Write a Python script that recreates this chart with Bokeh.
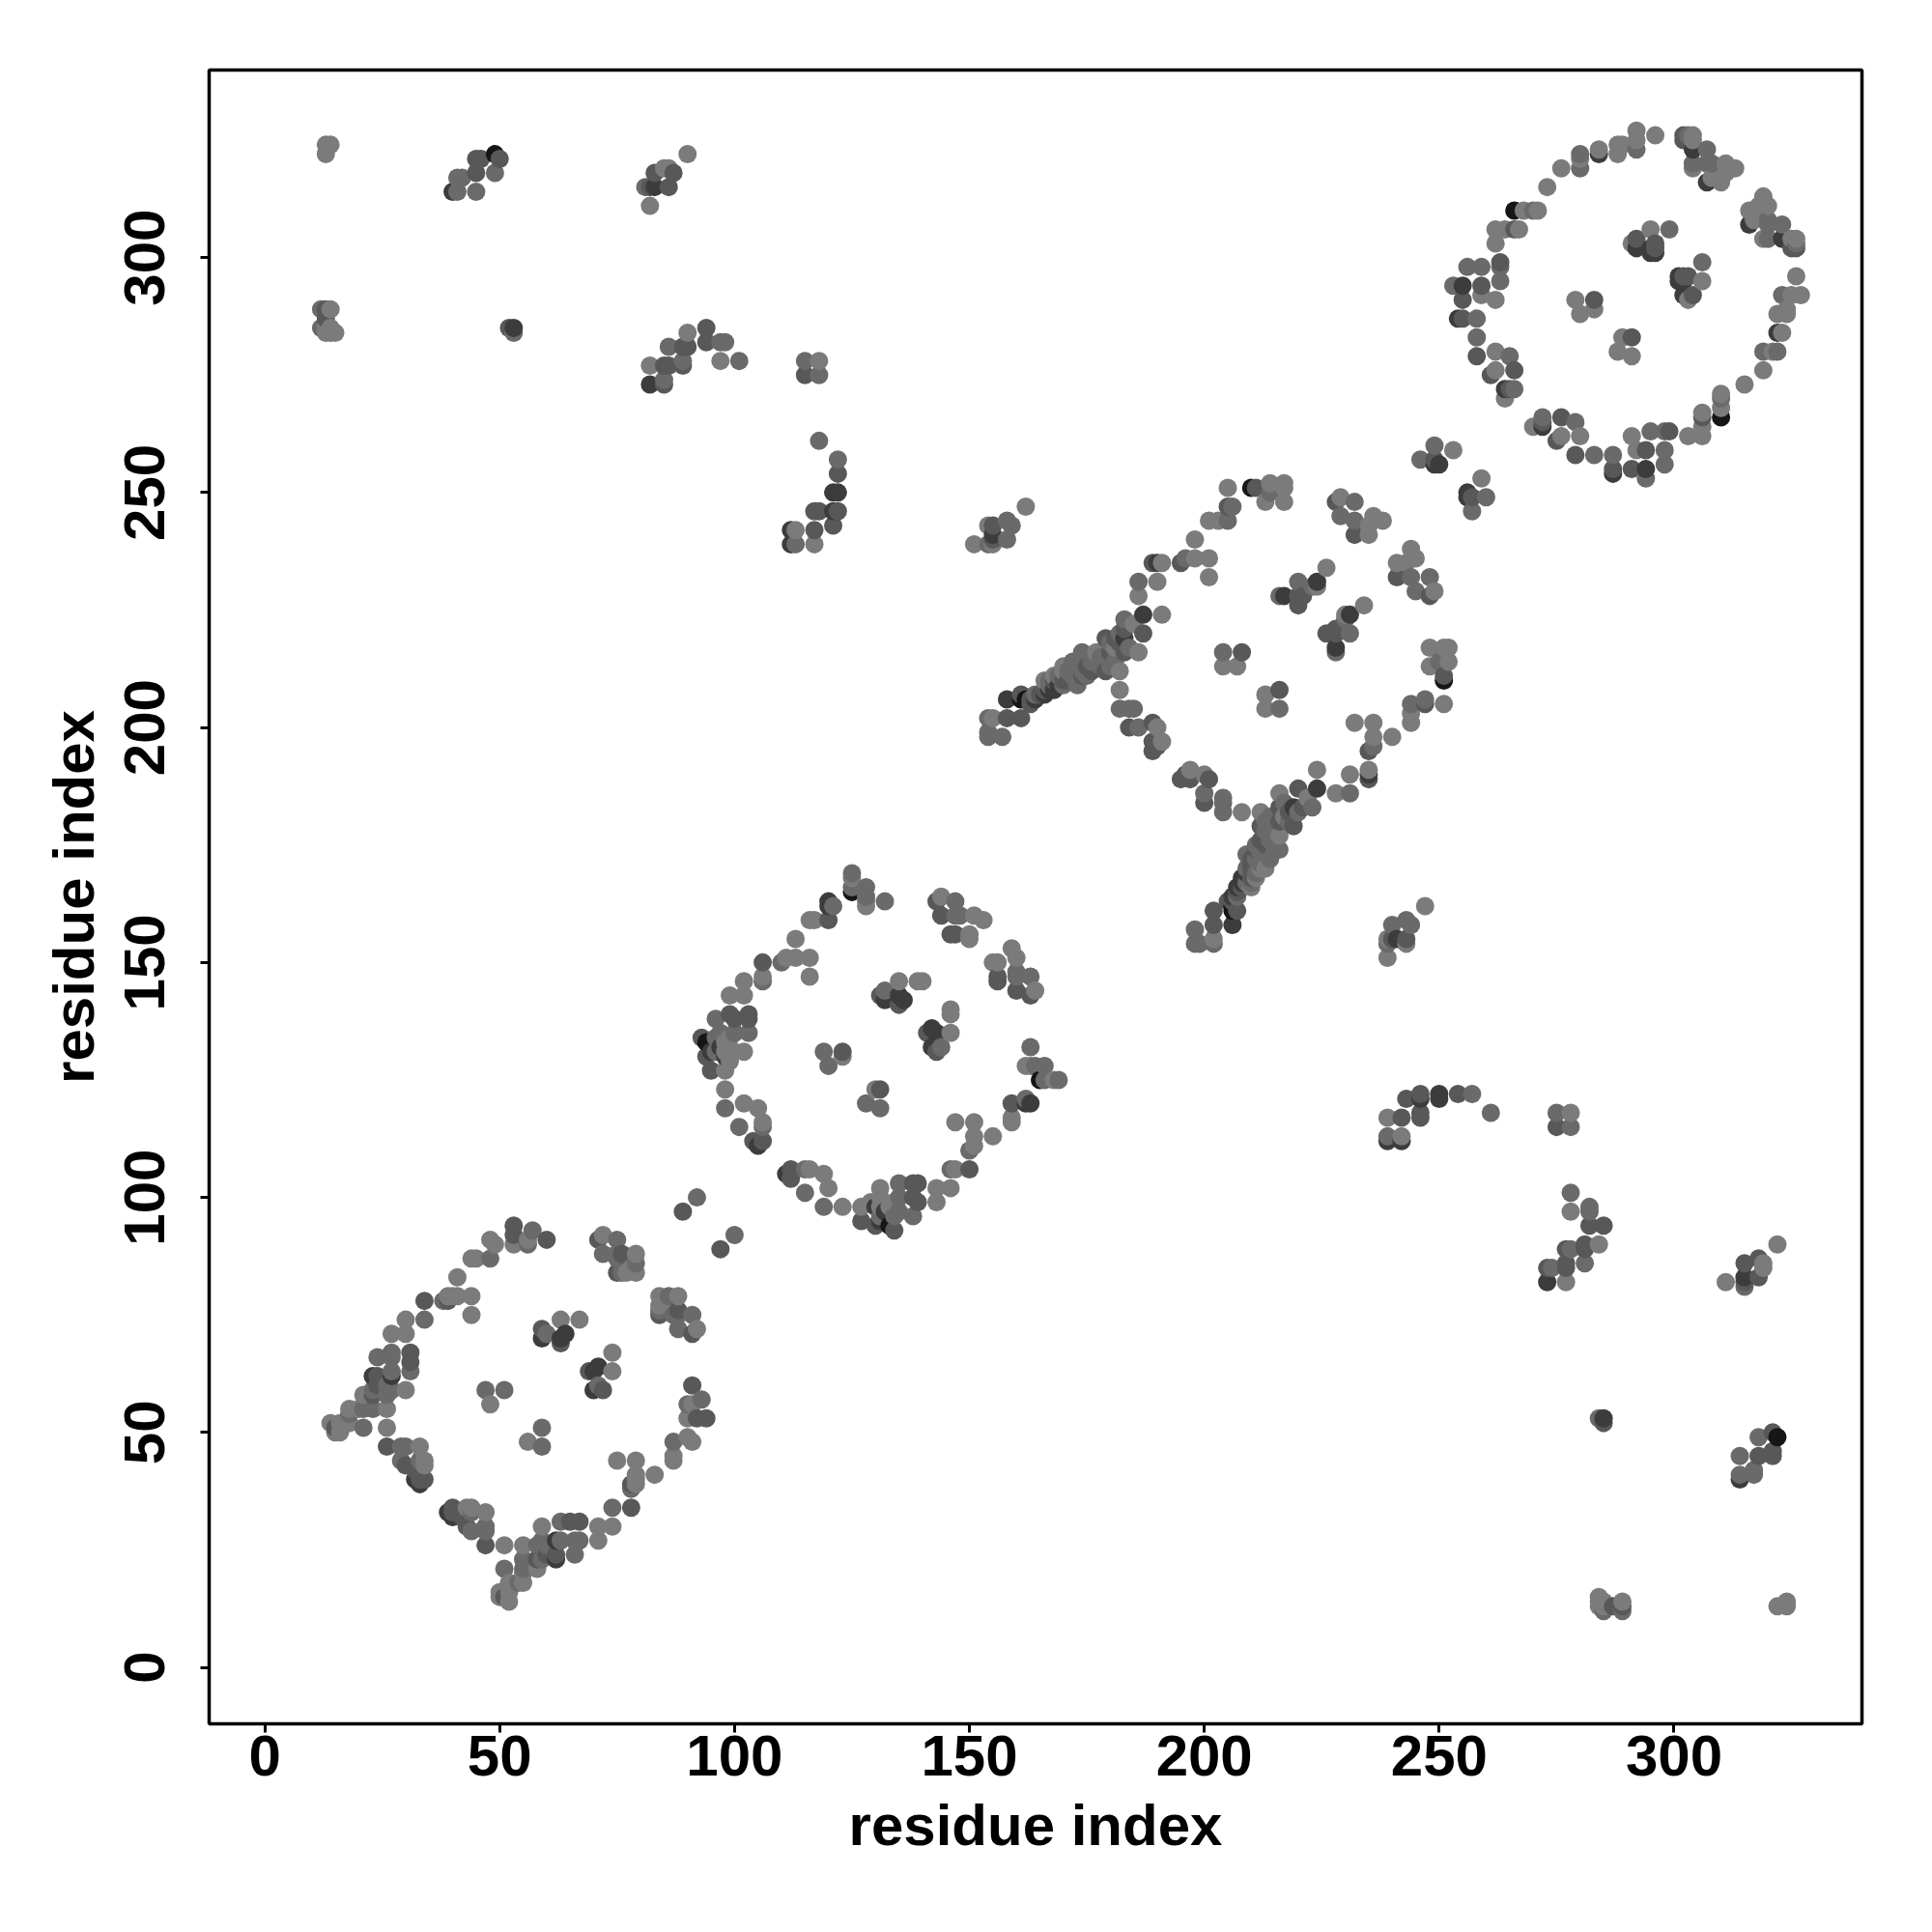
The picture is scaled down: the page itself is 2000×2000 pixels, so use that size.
from bokeh.plotting import figure
from bokeh.models import ColumnDataSource, FixedTicker, Range1d
from bokeh.embed import file_html
from bokeh.resources import INLINE

# contacts (i, j, strength class 1 = weak ... 5 = strong); the map is symmetric, only i < j is listed
ring1 = [(14,52,1),(15,50,1),(15,51,3),(16,52,1),(16,50,1),(18,52,1),(18,54,2),(18,55,1),(20,55,1),(21,51,2),(21,55,2),
 (21,58,1),(23,55,2),(23,58,3),(23,59,2),(23,62,4),(24,60,3),(24,62,3),(24,66,2),(26,51,1),(26,55,1),(26,58,2),(26,60,2),
 (27,59,2),(27,62,4),(27,63,2),(27,66,2),(27,67,2),(27,71,1),(30,59,1),(30,71,1),(30,74,1),(31,63,2),(31,65,3),(31,67,3),
 (34,74,2),(34,78,3),(38,78,2),(39,78,3),(39,79,1),(40,79,1),(41,79,1),(41,83,1),(44,75,1),(44,79,1),(44,87,1),(45,87,1),
 (48,87,2),(48,91,1),(49,90,1),(53,90,1),(53,92,3),(53,94,3),(56,90,2),(56,91,1),(57,93,2),(60,91,3),
 (47,59,2),(48,56,1),(51,59,2),(59,72,3),(60,71,2),(59,70,4),(63,69,3),(63,70,4),(64,71,4),(63,74,1),(67,74,1),
 (71,91,3),(72,92,1),(72,88,2),(75,91,2),(75,87,2),(75,88,2),(76,88,3),(76,84,2),(75,84,3),(78,85,1),(77,84,1),
 (79,88,1),(79,86,2),(79,84,1),
 (26,47,3),(29,47,2),(30,47,2),(33,47,1),(29,44,2),(30,43,3),(32,42,3),(33,44,2),(34,44,1),(34,43,1),(32,40,4),(33,39,4),
 (33,40,3),(34,40,3)]

ring2 = [(93,134,3),(94,133,5),(94,130,3),(95,131,4),(95,127,3),(96,134,2),(96,138,2),(98,119,2),(98,123,1),(98,127,1),
 (98,130,4),(98,131,1),(98,133,1),(99,134,1),(99,139,3),(99,143,1),(100,138,3),(102,120,1),(102,131,1),(102,143,1),
 (102,146,1),(103,135,2),(103,138,3),(103,139,3),(101,115,2),(105,119,1),(104,112,3),(105,111,4),(106,112,3),(106,115,2),
 (106,116,1),(106,146,2),(106,147,1),(106,150,3),(110,150,2),(111,151,1),(113,151,1),(113,155,1),(116,147,1),(116,151,1),
 (116,159,1),(117,159,1),(120,159,3),(120,162,4),(120,163,4),(121,162,2),(125,165,5),(125,166,2),(125,169,2),(125,168,1),
 (128,162,1),(128,163,1),(128,164,2),(128,166,2),(132,163,2),
 (119,131,2),(120,128,2),(123,131,2),(123,130,1),(128,120,2),(130,123,1),(131,119,2),(131,123,3),
 (131,143,3),(132,142,4),(132,144,2),(135,141,3),(135,143,4),(136,142,4),(135,146,1),(139,146,1),(140,146,1),
 (143,163,3),(144,160,3),(144,164,1),(146,156,3),(147,156,3),(147,160,2),(147,163,2),(148,160,2),(150,155,1),(150,156,1),
 (151,160,1),(153,159,1),(96,131,2),(97,135,2),(97,132,4),(100,135,2),(100,131,1),(99,129,1)]

ring3 = [(154,198,2),(154,199,2),(154,202,2),(155,202,1),(157,198,2),(158,202,3),(158,206,4),(161,202,3),(161,206,5),
 (161,207,3),(162,206,5),(163,206,3),(163,205,3),(164,206,4),(164,207,2),(165,207,3),(166,207,4),(166,208,3),(166,210,1),(167,208,4),
 (167,209,2),(167,210,2),(168,208,4),(168,210,3),(168,211,1),(169,209,4),(169,211,2),(170,209,2),(170,210,3),(170,212,1),(170,213,1),
 (171,210,3),(171,212,2),(172,210,3),(172,211,2),(172,214,2),(173,209,2),(173,212,2),(174,211,3),(174,212,2),(174,215,2),(174,216,2),
 (175,211,2),(175,213,3),(176,212,3),(176,214,2),(177,214,2),(177,216,1),(178,213,2),(178,215,2),(179,212,3),(179,215,2),
 (179,219,3),(180,213,2),(180,216,3),(180,218,2),(181,214,2),(181,217,1),(181,219,3),(182,212,1),(182,208,1),(182,218,3),(182,220,2),
 (183,216,3),(183,219,4),(183,221,3),(183,223,2),(184,217,2),(186,216,1),(186,228,1),(186,231,2),(187,220,3),(187,224,4),(185,222,1),
 (190,231,1),(189,235,3),(190,235,4),(191,224,1),(191,235,1),(195,235,3),(196,236,2),(198,236,1),(198,240,1),(201,232,1),(201,236,1),
 (201,244,1),(203,244,1),(205,244,2),(205,251,1),(205,247,3),(206,247,2),(210,251,5),(211,251,3),(213,248,1),(214,250,2),(214,252,1),
 (217,248,1),(217,251,1),(217,252,1),
 (204,213,1),(204,216,2),(207,213,1),(208,216,3),(213,204,1),(213,207,1),(216,204,2),(216,208,3),
 (217,228,4),(216,228,2),(220,226,4),(220,231,2),(221,228,3),(224,231,4),(223,230,2),(226,234,1),(231,224,4),(230,224,1),(234,226,1),
 (226,220,3),(228,220,3),(228,217,4),(228,216,2),(231,220,2),
 (228,248,3),(229,245,2),(229,249,1),(232,241,3),(232,244,2),(232,248,2),(235,241,1),(236,245,1),(238,244,1),(235,243,1),
 (182,204,2),(184,204,2),(185,204,2),(184,200,3),(186,200,2),(189,201,3),(190,200,1),(189,195,3),(189,197,3),(191,197,1),(190,196,3)]

ring4 = [(253,294,2),(254,287,4),(255,287,3),(255,291,3),(255,294,4),(256,298,2),(258,279,3),(258,283,2),(258,287,2),
 (259,292,1),(259,294,3),(259,298,2),(261,275,3),(262,276,1),(262,280,1),(262,291,1),(263,295,2),(263,298,2),(263,299,3),
 (264,270,1),(264,272,4),(265,272,3),(265,279,2),(266,276,3),(266,272,2),(262,303,1),(262,306,1),(264,306,1),(266,306,3),
 (266,310,5),(267,306,1),(268,310,1),(270,310,2),(271,310,1),(273,315,1),(276,319,1),(280,319,2),(280,321,1),(280,322,2),
 (284,322,4),(284,323,1),(288,322,1),(288,324,1),(289,324,1),(292,323,2),(292,325,1),(292,327,1),(296,326,1),
 (279,291,1),(280,288,1),(283,289,1),(283,291,3),(288,280,1),(289,283,1),(291,279,1),(291,283,3),
 (291,303,1),(292,302,4),(292,304,3),(295,306,1),(299,306,1),(295,301,4),(296,301,4),(296,303,3),
 (302,295,4),(302,296,3),(302,292,4),(304,292,3),(306,295,1),(306,299,2),
 (302,325,3),(302,326,3),(303,326,2),(304,326,1),(304,323,4),(304,325,1),(304,320,2),(304,319,1),(307,316,4),(307,320,2),(307,323,2),
 (308,320,2),(308,317,1),(310,316,1),(311,320,1),(313,319,1),(311,318,1)]

links = [(89,97,3),(92,100,2),(246,257,2),(249,260,2),(253,259,1),(249,257,3),(249,256,4),(250,256,4)]

corner_nw = [(12,289,2),(13,287,3),(13,289,3),(14,289,1),(12,285,2),(13,285,1),(13,284,1),(14,285,1),(14,284,1),(15,284,1),
 (13,322,1),(13,324,1),(14,324,1),
 (49,322,5),(50,321,3),(45,321,3),(46,321,3),(45,318,3),(49,318,2),(41,317,2),(42,317,2),(40,314,4),(41,314,2),(45,314,2),
 (81,315,2),(82,315,3),(83,315,4),(83,318,3),(85,319,1),(86,319,1),(86,315,3),(87,318,3),(82,311,1),(90,322,1),
 (52,285,3),(53,285,4),(53,284,2)]
corner_n = [(82,277,1),(82,273,4),(85,273,3),(85,274,2),(85,277,3),(86,277,3),(86,281,2),(89,277,3),(89,278,2),(89,281,3),
 (90,281,3),(90,284,1),(94,285,3),(94,282,3),(97,282,2),(98,282,2),(97,278,1),(101,278,2),
 (115,275,3),(115,278,2),(118,275,2),(118,278,1),
 (112,242,4),(113,242,1),(112,239,4),(113,239,2),(117,239,1),(117,242,3),(117,246,3),(118,246,3),(118,261,2),(121,243,3),
 (121,250,4),(122,250,4),(122,246,3),(121,246,4),(122,254,3),(122,257,2),
 (151,239,1),(154,239,2),(154,243,1),(155,239,1),(155,240,3),(155,243,3),(155,241,4),(158,240,2),(158,244,2),(159,243,2),(162,247,1)]

tick_values = [0, 50, 100, 150, 200, 250, 300]
axis_title = "residue index"

contacts = {}
for group in (ring1, ring2, ring3, ring4, links, corner_nw, corner_n):
    for i, j, s in group:
        contacts[(i, j)] = s
        contacts[(j, i)] = s

ordered = sorted(contacts.items())
palette = {1: "#7b7b7b", 2: "#6a6a6a", 3: "#585858", 4: "#3c3c3c", 5: "#161616"}
src = ColumnDataSource(dict(
    x=[k[0] for k, _ in ordered],
    y=[k[1] for k, _ in ordered],
    c=[palette[v] for _, v in ordered],
))

p = figure(frame_width=1711, frame_height=1712, output_backend="svg", toolbar_location=None,
           x_range=Range1d(-11.84, 340.0), y_range=Range1d(-12.0, 339.9),
           min_border_left=216, min_border_top=72, min_border_right=40, min_border_bottom=190)
p.background_fill_color = None
p.grid.visible = False
p.outline_line_color = "black"
p.outline_line_width = 3.5

p.scatter("x", "y", source=src, size=19, color="c", line_color=None)

for ax in (p.xaxis[0], p.yaxis[0]):
    ax.ticker = FixedTicker(ticks=tick_values)
    ax.axis_label = axis_title
    ax.axis_line_color = None
    ax.major_tick_line_color = "black"
    ax.major_tick_line_width = 3
    ax.major_tick_in = 0
    ax.major_tick_out = 9
    ax.minor_tick_line_color = None
    ax.major_label_text_font = "Liberation Sans"
    ax.major_label_text_font_style = "bold"
    ax.major_label_text_font_size = "60px"
    ax.major_label_text_color = "black"
    ax.axis_label_text_font = "Liberation Sans"
    ax.axis_label_text_font_style = "bold"
    ax.axis_label_text_font_size = "60px"
    ax.axis_label_text_color = "black"
p.yaxis[0].major_label_orientation = "vertical"
p.xaxis[0].major_label_standoff = 3
p.yaxis[0].major_label_standoff = 37
p.xaxis[0].axis_label_standoff = 15
p.yaxis[0].axis_label_standoff = 17

open("out.html", "w").write(file_html(p, INLINE))
